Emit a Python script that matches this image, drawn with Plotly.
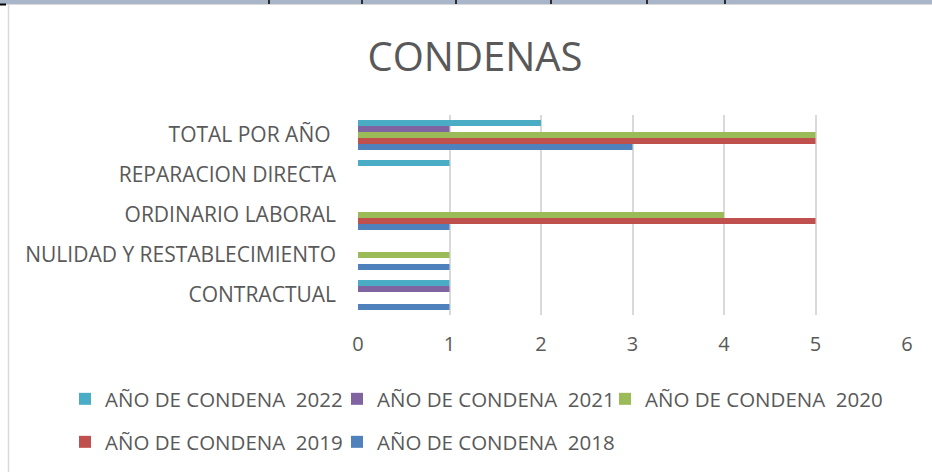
import plotly.graph_objects as go

# Categories, listed bottom to top
categories = [
    "CONTRACTUAL",
    "NULIDAD Y RESTABLECIMIENTO",
    "ORDINARIO LABORAL",
    "REPARACION DIRECTA",
    "TOTAL POR AÑO",
]
category_labels = [
    "CONTRACTUAL",
    "NULIDAD Y RESTABLECIMIENTO",
    "ORDINARIO LABORAL",
    "REPARACION DIRECTA",
    "TOTAL POR AÑO\u00a0",
]

# Sentences per year, in the same category order
condenas_2018 = [1, 1, 1, 0, 3]
condenas_2019 = [0, 0, 5, 0, 5]
condenas_2020 = [0, 1, 4, 0, 5]
condenas_2021 = [1, 0, 0, 0, 1]
condenas_2022 = [1, 0, 0, 1, 2]

series_names = [
    "AÑO DE CONDENA\u00a0 2018",
    "AÑO DE CONDENA\u00a0 2019",
    "AÑO DE CONDENA\u00a0 2020",
    "AÑO DE CONDENA\u00a0 2021",
    "AÑO DE CONDENA\u00a0 2022",
]
series_values = [condenas_2018, condenas_2019, condenas_2020, condenas_2021, condenas_2022]
series_colors = ["#4F81BD", "#C0504D", "#9BBB59", "#8064A2", "#4BACC6"]

x_ticks = [0, 1, 2, 3, 4, 5, 6]

W, H = 932, 472
FONT = "Open Sans, Lato, sans-serif"
TEXT = "#595959"

# plot area in pixels
L, R, T, B = 358, 907, 115, 315

# legend entry positions (left edge, vertical centre), one legend box per series
legend_slots = [(337, 442), (65, 442), (605, 399), (337, 399), (65, 399)]


def px_x(px):
    return (px - L) / (R - L)


def px_y(py):
    return (B - py) / (B - T)


fig = go.Figure()
legend_layout = {}
for i, (name, vals, color) in enumerate(zip(series_names, series_values, series_colors)):
    key = "legend" if i == 0 else f"legend{i + 1}"
    fig.add_trace(go.Bar(
        y=categories,
        x=vals,
        name=name,
        orientation="h",
        marker=dict(color=color, line=dict(width=0)),
        legend=key,
    ))
    lx, ly = legend_slots[i]
    legend_layout[key] = dict(
        orientation="h",
        xref="container", yref="container",
        x=lx / W, y=1 - ly / H,
        xanchor="left", yanchor="middle",
        font=dict(family=FONT, size=20.5, color=TEXT),
        bgcolor="rgba(0,0,0,0)",
        itemclick=False, itemdoubleclick=False,
    )

shapes = [
    # strip at the top edge of the page
    dict(type="rect", xref="paper", yref="paper",
         x0=px_x(0), x1=px_x(W), y0=px_y(0), y1=px_y(4),
         fillcolor="#A9B6C9", line=dict(width=0), layer="above"),
    dict(type="line", xref="paper", yref="paper",
         x0=px_x(0), x1=px_x(W), y0=px_y(4.5), y1=px_y(4.5),
         line=dict(color="#D9D9D9", width=1), layer="above"),
    dict(type="line", xref="paper", yref="paper",
         x0=px_x(0), x1=px_x(6), y0=px_y(4.5), y1=px_y(4.5),
         line=dict(color="#000000", width=2), layer="above"),
    # chart frame, left edge
    dict(type="line", xref="paper", yref="paper",
         x0=px_x(8.5), x1=px_x(8.5), y0=px_y(5), y1=px_y(H),
         line=dict(color="#D9D9D9", width=1.5), layer="above"),
]
for tx in [269, 362, 456, 551, 647, 725]:
    shapes.append(dict(type="line", xref="paper", yref="paper",
                       x0=px_x(tx), x1=px_x(tx), y0=px_y(0), y1=px_y(4),
                       line=dict(color="#000000", width=1.5), layer="above"))

fig.update_layout(
    width=W, height=H,
    margin=dict(l=L, r=W - R, t=T, b=H - B, pad=0, autoexpand=False),
    paper_bgcolor="white", plot_bgcolor="white",
    barmode="group", bargap=0.25, bargroupgap=0,
    title=dict(
        text="CONDENAS",
        x=475 / W, xref="container", xanchor="center",
        y=1 - 57 / H, yref="container", yanchor="middle",
        font=dict(family=FONT, size=40, color=TEXT),
    ),
    xaxis=dict(
        range=[0, 6], tickvals=x_ticks,
        showgrid=True, gridcolor="#D9D9D9", gridwidth=2,
        zeroline=False, showline=False, ticks="",
        ticklabelstandoff=15,
        tickfont=dict(family=FONT, size=20, color=TEXT),
        fixedrange=True, automargin=False,
    ),
    yaxis=dict(
        type="category",
        categoryorder="array", categoryarray=categories,
        tickvals=categories, ticktext=category_labels,
        showgrid=False, zeroline=False, showline=False, ticks="",
        ticklabelstandoff=21,
        tickfont=dict(family=FONT, size=21, color=TEXT),
        fixedrange=True, automargin=False,
    ),
    shapes=shapes,
    showlegend=True,
    **legend_layout,
)

fig.write_html("out.html", config={"displayModeBar": False})
